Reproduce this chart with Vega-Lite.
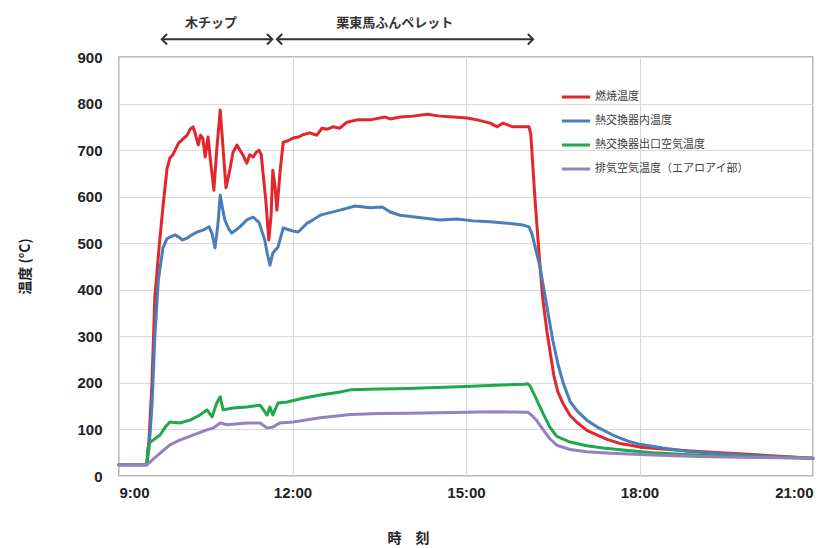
{
  "$schema": "https://vega.github.io/schema/vega-lite/v6.json",
  "width": 694,
  "height": 419,
  "autosize": "none",
  "padding": {"left": 119, "top": 57, "right": 25, "bottom": 72},
  "background": "white",
  "config": {
    "view": {"stroke": "#a6a6a6", "strokeWidth": 1.5},
    "font": "Liberation Sans, Noto Sans CJK JP",
    "axis": {
      "domain": false,
      "ticks": false,
      "gridColor": "#d9d9d9",
      "gridWidth": 1,
      "labelFont": "Liberation Sans",
      "labelFontWeight": "bold",
      "labelFontSize": 15,
      "labelColor": "#222222",
      "titleFont": "Noto Sans CJK JP",
      "titleFontWeight": "bold",
      "titleFontSize": 14,
      "titleColor": "#222222"
    }
  },
  "layer": [
    {
      "data": {
        "values": [
          {"s": "燃焼温度", "h": 9.0, "v": 24}, {"s": "燃焼温度", "h": 9.48, "v": 24}, {"s": "燃焼温度", "h": 9.52, "v": 80},
          {"s": "燃焼温度", "h": 9.57, "v": 200}, {"s": "燃焼温度", "h": 9.62, "v": 385}, {"s": "燃焼温度", "h": 9.7, "v": 500},
          {"s": "燃焼温度", "h": 9.76, "v": 578}, {"s": "燃焼温度", "h": 9.83, "v": 660}, {"s": "燃焼温度", "h": 9.88, "v": 683},
          {"s": "燃焼温度", "h": 9.93, "v": 690}, {"s": "燃焼温度", "h": 9.97, "v": 700}, {"s": "燃焼温度", "h": 10.03, "v": 715},
          {"s": "燃焼温度", "h": 10.09, "v": 722}, {"s": "燃焼温度", "h": 10.14, "v": 728}, {"s": "燃焼温度", "h": 10.18, "v": 732},
          {"s": "燃焼温度", "h": 10.23, "v": 745}, {"s": "燃焼温度", "h": 10.28, "v": 750}, {"s": "燃焼温度", "h": 10.32, "v": 735},
          {"s": "燃焼温度", "h": 10.37, "v": 711}, {"s": "燃焼温度", "h": 10.41, "v": 732}, {"s": "燃焼温度", "h": 10.45, "v": 725},
          {"s": "燃焼温度", "h": 10.49, "v": 685}, {"s": "燃焼温度", "h": 10.52, "v": 712}, {"s": "燃焼温度", "h": 10.54, "v": 728},
          {"s": "燃焼温度", "h": 10.58, "v": 680}, {"s": "燃焼温度", "h": 10.64, "v": 614}, {"s": "燃焼温度", "h": 10.69, "v": 700},
          {"s": "燃焼温度", "h": 10.75, "v": 786}, {"s": "燃焼温度", "h": 10.79, "v": 720}, {"s": "燃焼温度", "h": 10.85, "v": 619},
          {"s": "燃焼温度", "h": 10.92, "v": 660}, {"s": "燃焼温度", "h": 10.97, "v": 695}, {"s": "燃焼温度", "h": 11.04, "v": 711},
          {"s": "燃焼温度", "h": 11.09, "v": 700}, {"s": "燃焼温度", "h": 11.14, "v": 690}, {"s": "燃焼温度", "h": 11.21, "v": 672},
          {"s": "燃焼温度", "h": 11.26, "v": 690}, {"s": "燃焼温度", "h": 11.32, "v": 685}, {"s": "燃焼温度", "h": 11.37, "v": 695},
          {"s": "燃焼温度", "h": 11.42, "v": 700}, {"s": "燃焼温度", "h": 11.46, "v": 690}, {"s": "燃焼温度", "h": 11.49, "v": 651},
          {"s": "燃焼温度", "h": 11.54, "v": 590}, {"s": "燃焼温度", "h": 11.59, "v": 507}, {"s": "燃焼温度", "h": 11.63, "v": 560},
          {"s": "燃焼温度", "h": 11.66, "v": 657}, {"s": "燃焼温度", "h": 11.7, "v": 620}, {"s": "燃焼温度", "h": 11.73, "v": 571},
          {"s": "燃焼温度", "h": 11.79, "v": 660}, {"s": "燃焼温度", "h": 11.84, "v": 717}, {"s": "燃焼温度", "h": 11.92, "v": 720},
          {"s": "燃焼温度", "h": 12.01, "v": 726}, {"s": "燃焼温度", "h": 12.1, "v": 728}, {"s": "燃焼温度", "h": 12.18, "v": 733},
          {"s": "燃焼温度", "h": 12.3, "v": 737}, {"s": "燃焼温度", "h": 12.42, "v": 732}, {"s": "燃焼温度", "h": 12.51, "v": 747},
          {"s": "燃焼温度", "h": 12.6, "v": 745}, {"s": "燃焼温度", "h": 12.7, "v": 750}, {"s": "燃焼温度", "h": 12.82, "v": 747},
          {"s": "燃焼温度", "h": 12.94, "v": 760}, {"s": "燃焼温度", "h": 13.12, "v": 765}, {"s": "燃焼温度", "h": 13.34, "v": 765},
          {"s": "燃焼温度", "h": 13.51, "v": 769}, {"s": "燃焼温度", "h": 13.6, "v": 771}, {"s": "燃焼温度", "h": 13.69, "v": 767},
          {"s": "燃焼温度", "h": 13.86, "v": 771}, {"s": "燃焼温度", "h": 14.08, "v": 773}, {"s": "燃焼温度", "h": 14.33, "v": 777},
          {"s": "燃焼温度", "h": 14.55, "v": 773}, {"s": "燃焼温度", "h": 14.78, "v": 771}, {"s": "燃焼温度", "h": 15.02, "v": 769},
          {"s": "燃焼温度", "h": 15.19, "v": 765}, {"s": "燃焼温度", "h": 15.42, "v": 758}, {"s": "燃焼温度", "h": 15.54, "v": 750},
          {"s": "燃焼温度", "h": 15.64, "v": 758}, {"s": "燃焼温度", "h": 15.81, "v": 750}, {"s": "燃焼温度", "h": 15.99, "v": 750},
          {"s": "燃焼温度", "h": 16.09, "v": 750}, {"s": "燃焼温度", "h": 16.12, "v": 735}, {"s": "燃焼温度", "h": 16.19, "v": 600},
          {"s": "燃焼温度", "h": 16.28, "v": 450}, {"s": "燃焼温度", "h": 16.33, "v": 378}, {"s": "燃焼温度", "h": 16.4, "v": 310},
          {"s": "燃焼温度", "h": 16.45, "v": 270}, {"s": "燃焼温度", "h": 16.52, "v": 215}, {"s": "燃焼温度", "h": 16.59, "v": 180},
          {"s": "燃焼温度", "h": 16.68, "v": 155}, {"s": "燃焼温度", "h": 16.8, "v": 130}, {"s": "燃焼温度", "h": 16.92, "v": 115},
          {"s": "燃焼温度", "h": 17.09, "v": 98}, {"s": "燃焼温度", "h": 17.27, "v": 88}, {"s": "燃焼温度", "h": 17.45, "v": 78},
          {"s": "燃焼温度", "h": 17.66, "v": 70}, {"s": "燃焼温度", "h": 17.85, "v": 66}, {"s": "燃焼温度", "h": 18.01, "v": 62},
          {"s": "燃焼温度", "h": 18.4, "v": 58}, {"s": "燃焼温度", "h": 18.82, "v": 54}, {"s": "燃焼温度", "h": 19.4, "v": 50},
          {"s": "燃焼温度", "h": 19.96, "v": 46}, {"s": "燃焼温度", "h": 20.5, "v": 42}, {"s": "燃焼温度", "h": 21.0, "v": 38},

          {"s": "熱交換器内温度", "h": 9.0, "v": 24}, {"s": "熱交換器内温度", "h": 9.48, "v": 24}, {"s": "熱交換器内温度", "h": 9.52, "v": 60},
          {"s": "熱交換器内温度", "h": 9.57, "v": 150}, {"s": "熱交換器内温度", "h": 9.62, "v": 300}, {"s": "熱交換器内温度", "h": 9.68, "v": 420},
          {"s": "熱交換器内温度", "h": 9.76, "v": 490}, {"s": "熱交換器内温度", "h": 9.83, "v": 510}, {"s": "熱交換器内温度", "h": 9.88, "v": 513},
          {"s": "熱交換器内温度", "h": 9.97, "v": 518}, {"s": "熱交換器内温度", "h": 10.05, "v": 512}, {"s": "熱交換器内温度", "h": 10.09, "v": 507},
          {"s": "熱交換器内温度", "h": 10.18, "v": 511}, {"s": "熱交換器内温度", "h": 10.26, "v": 518}, {"s": "熱交換器内温度", "h": 10.35, "v": 524},
          {"s": "熱交換器内温度", "h": 10.45, "v": 528}, {"s": "熱交換器内温度", "h": 10.56, "v": 535}, {"s": "熱交換器内温度", "h": 10.61, "v": 520},
          {"s": "熱交換器内温度", "h": 10.66, "v": 490}, {"s": "熱交換器内温度", "h": 10.71, "v": 540}, {"s": "熱交換器内温度", "h": 10.75, "v": 603},
          {"s": "熱交換器内温度", "h": 10.79, "v": 575}, {"s": "熱交換器内温度", "h": 10.83, "v": 550}, {"s": "熱交換器内温度", "h": 10.9, "v": 530},
          {"s": "熱交換器内温度", "h": 10.95, "v": 522}, {"s": "熱交換器内温度", "h": 11.04, "v": 530}, {"s": "熱交換器内温度", "h": 11.09, "v": 535},
          {"s": "熱交換器内温度", "h": 11.21, "v": 550}, {"s": "熱交換器内温度", "h": 11.32, "v": 556}, {"s": "熱交換器内温度", "h": 11.42, "v": 545},
          {"s": "熱交換器内温度", "h": 11.52, "v": 507}, {"s": "熱交換器内温度", "h": 11.56, "v": 480}, {"s": "熱交換器内温度", "h": 11.61, "v": 453},
          {"s": "熱交換器内温度", "h": 11.66, "v": 479}, {"s": "熱交換器内温度", "h": 11.75, "v": 492}, {"s": "熱交換器内温度", "h": 11.84, "v": 533},
          {"s": "熱交換器内温度", "h": 11.91, "v": 530}, {"s": "熱交換器内温度", "h": 12.01, "v": 526}, {"s": "熱交換器内温度", "h": 12.1, "v": 524},
          {"s": "熱交換器内温度", "h": 12.25, "v": 543}, {"s": "熱交換器内温度", "h": 12.3, "v": 546}, {"s": "熱交換器内温度", "h": 12.48, "v": 560},
          {"s": "熱交換器内温度", "h": 12.53, "v": 562}, {"s": "熱交換器内温度", "h": 12.82, "v": 571}, {"s": "熱交換器内温度", "h": 13.08, "v": 580},
          {"s": "熱交換器内温度", "h": 13.34, "v": 576}, {"s": "熱交換器内温度", "h": 13.55, "v": 578}, {"s": "熱交換器内温度", "h": 13.69, "v": 567},
          {"s": "熱交換器内温度", "h": 13.86, "v": 560}, {"s": "熱交換器内温度", "h": 14.26, "v": 554}, {"s": "熱交換器内温度", "h": 14.55, "v": 550},
          {"s": "熱交換器内温度", "h": 14.84, "v": 552}, {"s": "熱交換器内温度", "h": 15.12, "v": 548}, {"s": "熱交換器内温度", "h": 15.42, "v": 546},
          {"s": "熱交換器内温度", "h": 15.71, "v": 543}, {"s": "熱交換器内温度", "h": 15.99, "v": 539}, {"s": "熱交換器内温度", "h": 16.09, "v": 535},
          {"s": "熱交換器内温度", "h": 16.14, "v": 520}, {"s": "熱交換器内温度", "h": 16.28, "v": 449}, {"s": "熱交換器内温度", "h": 16.4, "v": 363},
          {"s": "熱交換器内温度", "h": 16.5, "v": 292}, {"s": "熱交換器内温度", "h": 16.59, "v": 240}, {"s": "熱交換器内温度", "h": 16.68, "v": 200},
          {"s": "熱交換器内温度", "h": 16.8, "v": 160}, {"s": "熱交換器内温度", "h": 16.92, "v": 140}, {"s": "熱交換器内温度", "h": 17.09, "v": 120},
          {"s": "熱交換器内温度", "h": 17.27, "v": 105}, {"s": "熱交換器内温度", "h": 17.54, "v": 88}, {"s": "熱交換器内温度", "h": 17.8, "v": 75},
          {"s": "熱交換器内温度", "h": 18.01, "v": 68}, {"s": "熱交換器内温度", "h": 18.4, "v": 60}, {"s": "熱交換器内温度", "h": 18.82, "v": 53},
          {"s": "熱交換器内温度", "h": 19.4, "v": 48}, {"s": "熱交換器内温度", "h": 19.96, "v": 44}, {"s": "熱交換器内温度", "h": 20.5, "v": 41},
          {"s": "熱交換器内温度", "h": 21.0, "v": 38},

          {"s": "熱交換器出口空気温度", "h": 9.0, "v": 24}, {"s": "熱交換器出口空気温度", "h": 9.48, "v": 24}, {"s": "熱交換器出口空気温度", "h": 9.5, "v": 60},
          {"s": "熱交換器出口空気温度", "h": 9.54, "v": 73}, {"s": "熱交換器出口空気温度", "h": 9.59, "v": 77}, {"s": "熱交換器出口空気温度", "h": 9.71, "v": 88},
          {"s": "熱交換器出口空気温度", "h": 9.8, "v": 105}, {"s": "熱交換器出口空気温度", "h": 9.88, "v": 116}, {"s": "熱交換器出口空気温度", "h": 10.05, "v": 114},
          {"s": "熱交換器出口空気温度", "h": 10.23, "v": 120}, {"s": "熱交換器出口空気温度", "h": 10.4, "v": 131}, {"s": "熱交換器出口空気温度", "h": 10.52, "v": 142},
          {"s": "熱交換器出口空気温度", "h": 10.61, "v": 127}, {"s": "熱交換器出口空気温度", "h": 10.69, "v": 157}, {"s": "熱交換器出口空気温度", "h": 10.75, "v": 170},
          {"s": "熱交換器出口空気温度", "h": 10.8, "v": 142}, {"s": "熱交換器出口空気温度", "h": 10.97, "v": 146}, {"s": "熱交換器出口空気温度", "h": 11.21, "v": 148},
          {"s": "熱交換器出口空気温度", "h": 11.44, "v": 152}, {"s": "熱交換器出口空気温度", "h": 11.56, "v": 131}, {"s": "熱交換器出口空気温度", "h": 11.61, "v": 148},
          {"s": "熱交換器出口空気温度", "h": 11.66, "v": 131}, {"s": "熱交換器出口空気温度", "h": 11.75, "v": 157}, {"s": "熱交換器出口空気温度", "h": 11.91, "v": 159},
          {"s": "熱交換器出口空気温度", "h": 12.18, "v": 167}, {"s": "熱交換器出口空気温度", "h": 12.48, "v": 174}, {"s": "熱交換器出口空気温度", "h": 12.8, "v": 180},
          {"s": "熱交換器出口空気温度", "h": 13.0, "v": 185}, {"s": "熱交換器出口空気温度", "h": 13.5, "v": 187}, {"s": "熱交換器出口空気温度", "h": 14.0, "v": 188},
          {"s": "熱交換器出口空気温度", "h": 14.5, "v": 190}, {"s": "熱交換器出口空気温度", "h": 15.0, "v": 192}, {"s": "熱交換器出口空気温度", "h": 15.5, "v": 195},
          {"s": "熱交換器出口空気温度", "h": 16.0, "v": 197}, {"s": "熱交換器出口空気温度", "h": 16.07, "v": 198}, {"s": "熱交換器出口空気温度", "h": 16.11, "v": 193},
          {"s": "熱交換器出口空気温度", "h": 16.16, "v": 180}, {"s": "熱交換器出口空気温度", "h": 16.33, "v": 135}, {"s": "熱交換器出口空気温度", "h": 16.45, "v": 105},
          {"s": "熱交換器出口空気温度", "h": 16.57, "v": 85}, {"s": "熱交換器出口空気温度", "h": 16.8, "v": 73}, {"s": "熱交換器出口空気温度", "h": 17.09, "v": 65},
          {"s": "熱交換器出口空気温度", "h": 17.37, "v": 60}, {"s": "熱交換器出口空気温度", "h": 17.8, "v": 55}, {"s": "熱交換器出口空気温度", "h": 18.23, "v": 50},
          {"s": "熱交換器出口空気温度", "h": 18.8, "v": 46}, {"s": "熱交換器出口空気温度", "h": 19.39, "v": 43}, {"s": "熱交換器出口空気温度", "h": 20.0, "v": 41},
          {"s": "熱交換器出口空気温度", "h": 21.0, "v": 38},

          {"s": "排気空気温度（エアロアイ部）", "h": 9.0, "v": 24}, {"s": "排気空気温度（エアロアイ部）", "h": 9.48, "v": 24},
          {"s": "排気空気温度（エアロアイ部）", "h": 9.71, "v": 49}, {"s": "排気空気温度（エアロアイ部）", "h": 9.88, "v": 67},
          {"s": "排気空気温度（エアロアイ部）", "h": 10.05, "v": 77}, {"s": "排気空気温度（エアロアイ部）", "h": 10.28, "v": 88},
          {"s": "排気空気温度（エアロアイ部）", "h": 10.52, "v": 99}, {"s": "排気空気温度（エアロアイ部）", "h": 10.63, "v": 103},
          {"s": "排気空気温度（エアロアイ部）", "h": 10.75, "v": 114}, {"s": "排気空気温度（エアロアイ部）", "h": 10.87, "v": 110},
          {"s": "排気空気温度（エアロアイ部）", "h": 11.21, "v": 114}, {"s": "排気空気温度（エアロアイ部）", "h": 11.44, "v": 114},
          {"s": "排気空気温度（エアロアイ部）", "h": 11.56, "v": 103}, {"s": "排気空気温度（エアロアイ部）", "h": 11.66, "v": 105},
          {"s": "排気空気温度（エアロアイ部）", "h": 11.78, "v": 114}, {"s": "排気空気温度（エアロアイ部）", "h": 12.01, "v": 116},
          {"s": "排気空気温度（エアロアイ部）", "h": 12.48, "v": 125}, {"s": "排気空気温度（エアロアイ部）", "h": 13.0, "v": 132},
          {"s": "排気空気温度（エアロアイ部）", "h": 13.5, "v": 134}, {"s": "排気空気温度（エアロアイ部）", "h": 14.0, "v": 135},
          {"s": "排気空気温度（エアロアイ部）", "h": 14.5, "v": 136}, {"s": "排気空気温度（エアロアイ部）", "h": 15.0, "v": 137},
          {"s": "排気空気温度（エアロアイ部）", "h": 15.5, "v": 138}, {"s": "排気空気温度（エアロアイ部）", "h": 16.07, "v": 137},
          {"s": "排気空気温度（エアロアイ部）", "h": 16.14, "v": 130}, {"s": "排気空気温度（エアロアイ部）", "h": 16.23, "v": 118},
          {"s": "排気空気温度（エアロアイ部）", "h": 16.33, "v": 100}, {"s": "排気空気温度（エアロアイ部）", "h": 16.45, "v": 80},
          {"s": "排気空気温度（エアロアイ部）", "h": 16.57, "v": 66}, {"s": "排気空気温度（エアロアイ部）", "h": 16.8, "v": 57},
          {"s": "排気空気温度（エアロアイ部）", "h": 17.09, "v": 52}, {"s": "排気空気温度（エアロアイ部）", "h": 17.5, "v": 49},
          {"s": "排気空気温度（エアロアイ部）", "h": 18.23, "v": 45}, {"s": "排気空気温度（エアロアイ部）", "h": 19.0, "v": 42},
          {"s": "排気空気温度（エアロアイ部）", "h": 20.0, "v": 40}, {"s": "排気空気温度（エアロアイ部）", "h": 21.0, "v": 38}
        ]
      },
      "mark": {"type": "line", "strokeJoin": "round", "strokeCap": "round"},
      "encoding": {
        "x": {
          "field": "h",
          "type": "quantitative",
          "scale": {"domain": [9, 21], "nice": false, "zero": false},
          "axis": {
            "values": [9, 12, 15, 18, 21],
            "labelExpr": "datum.value + ':00'",
            "labelPadding": 9,
            "title": "時　刻",
            "titleX": 289,
            "titleY": 55
          }
        },
        "y": {
          "field": "v",
          "type": "quantitative",
          "scale": {"domain": [0, 900], "nice": false},
          "axis": {
            "values": [0, 100, 200, 300, 400, 500, 600, 700, 800, 900],
            "labelPadding": 17,
            "title": "温度 (°C)",
            "titleX": -94,
            "titleY": 209,
            "titleBaseline": "middle"
          }
        },
        "color": {
          "field": "s",
          "type": "nominal",
          "scale": {
            "domain": ["燃焼温度", "熱交換器内温度", "熱交換器出口空気温度", "排気空気温度（エアロアイ部）"],
            "range": ["#e3262b", "#4a7ebb", "#21a84a", "#9580c0"]
          },
          "legend": {
            "title": null,
            "orient": "none",
            "legendX": 441,
            "legendY": 24,
            "symbolType": "stroke",
            "symbolSize": 800,
            "rowPadding": 2,
            "labelFont": "Noto Sans CJK JP",
            "labelFontSize": 11,
            "labelColor": "#404040",
            "labelOffset": 3,
            "padding": 0
          }
        },
        "strokeWidth": {
          "field": "s",
          "type": "nominal",
          "scale": {
            "domain": ["燃焼温度", "熱交換器内温度", "熱交換器出口空気温度", "排気空気温度（エアロアイ部）"],
            "range": [3, 3, 3, 1.6]
          },
          "legend": {
            "title": null,
            "orient": "none",
            "legendX": 441,
            "legendY": 24,
            "symbolType": "stroke",
            "symbolSize": 800,
            "rowPadding": 2,
            "labelFont": "Noto Sans CJK JP",
            "labelFontSize": 11,
            "labelColor": "#404040",
            "labelOffset": 3,
            "padding": 0
          }
        }
      }
    },
    {
      "data": {
        "values": [
          {"fuel": "木チップ", "h1": 9.74, "h2": 11.65, "v": 938, "hm": 10.59, "vt": 973},
          {"fuel": "栗東馬ふんペレット", "h1": 11.73, "h2": 16.16, "v": 938, "hm": 13.77, "vt": 973}
        ]
      },
      "layer": [
        {
          "mark": {"type": "rule", "color": "#333333", "strokeWidth": 2},
          "encoding": {
            "x": {"field": "h1", "type": "quantitative"},
            "x2": {"field": "h2"},
            "y": {"field": "v", "type": "quantitative"}
          }
        },
        {
          "mark": {"type": "point", "shape": "M1,-1L0,0L1,1", "filled": false, "stroke": "#333333", "strokeWidth": 2, "size": 110, "opacity": 1},
          "encoding": {
            "x": {"field": "h1", "type": "quantitative"},
            "y": {"field": "v", "type": "quantitative"}
          }
        },
        {
          "mark": {"type": "point", "shape": "M-1,-1L0,0L-1,1", "filled": false, "stroke": "#333333", "strokeWidth": 2, "size": 110, "opacity": 1},
          "encoding": {
            "x": {"field": "h2", "type": "quantitative"},
            "y": {"field": "v", "type": "quantitative"}
          }
        },
        {
          "mark": {"type": "text", "font": "Noto Sans CJK JP", "fontSize": 13, "fontWeight": "bold", "color": "#333333"},
          "encoding": {
            "x": {"field": "hm", "type": "quantitative"},
            "y": {"field": "vt", "type": "quantitative"},
            "text": {"field": "fuel"}
          }
        }
      ]
    }
  ]
}
